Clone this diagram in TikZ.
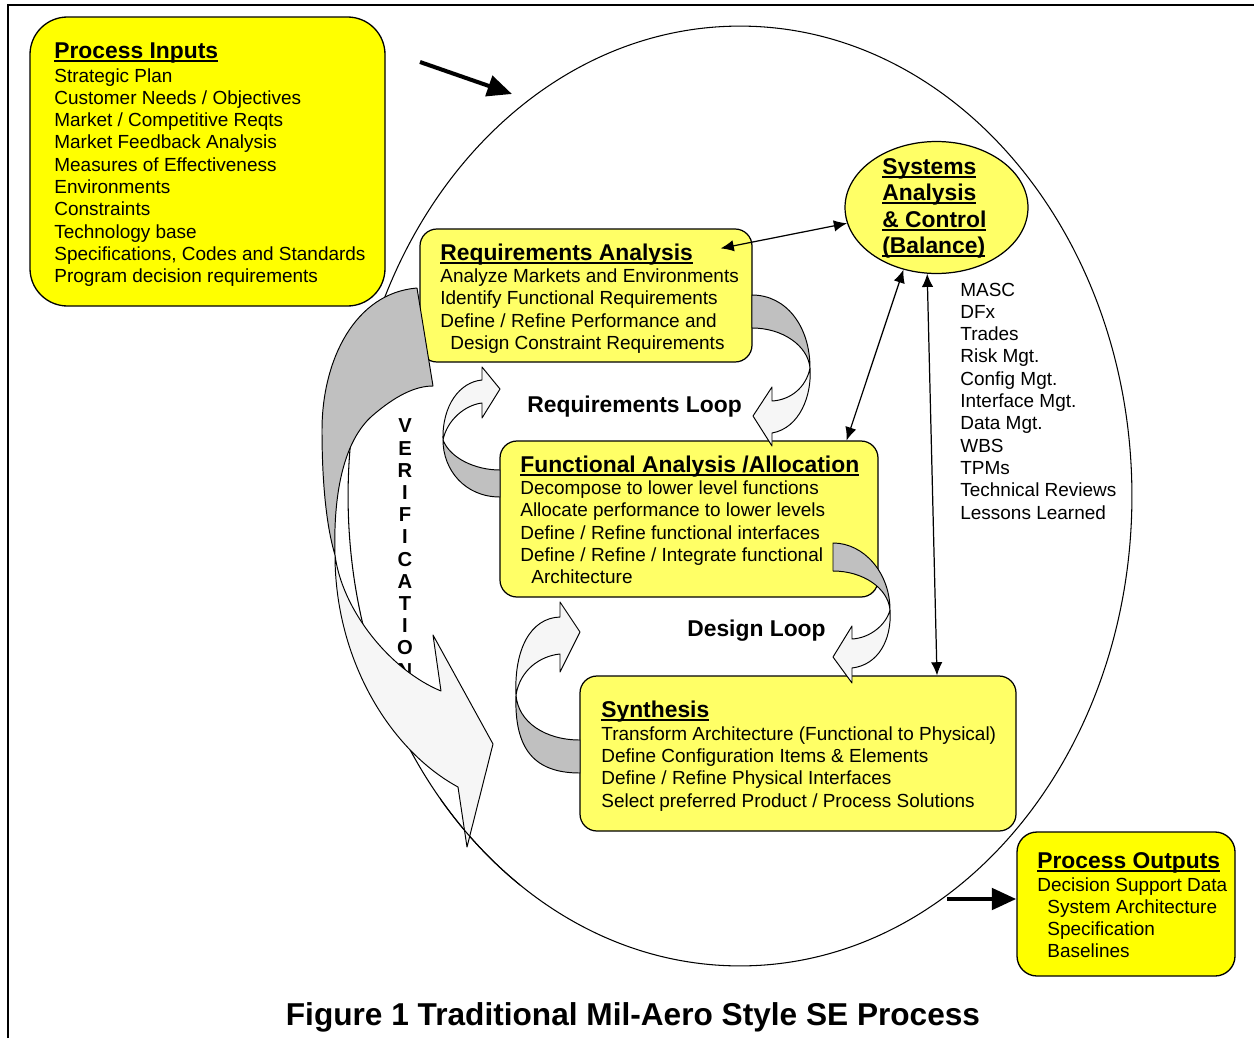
\documentclass[tikz,border=0pt]{standalone}
\usepackage{fontspec}
\setmainfont{Liberation Sans}
\usetikzlibrary{arrows.meta,shapes.geometric,fit,calc}
\definecolor{hiyel}{RGB}{255,255,0}
\definecolor{paleyel}{RGB}{255,255,102}
\definecolor{ribdark}{RGB}{192,192,192}
\definecolor{riblight}{RGB}{246,246,246}
\newlength\ulw
% bold heading with a solid underline
\newcommand\ulbf[1]{\settowidth{\ulw}{#1}\rlap{\rule[-2.4pt]{\ulw}{1.1pt}}#1}

\begin{document}
\begin{tikzpicture}[x=0.02cm,y=-0.02cm,
  body/.style={font=\fontsize{10.8}{13}\selectfont, inner sep=0, anchor=base west},
  ttl/.style={font=\fontsize{13}{15}\selectfont\bfseries, inner sep=0, anchor=base west},
  outerbox/.style={draw, line width=0.75pt, fill=hiyel, inner sep=0},
  stagebox/.style={draw, line width=0.7pt, fill=paleyel, inner sep=0, rounded corners=0.34cm},
  ribbon/.style={draw, line width=0.55pt, line join=round},
  link/.style={line width=0.7pt, {Latex[length=7.5pt,width=6.5pt]}-{Latex[length=7.5pt,width=6.5pt]}},
  bigarrow/.style={-{Triangle[length=14pt,width=12pt]}},
]
\useasboundingbox (0,0) rectangle (1254,1038);

% page frame (top and left rules)
\draw[line width=1.2pt] (8,1038) -- (8,5) -- (1254,5);

% the overall process ring
\node[ellipse, draw, line width=0.6pt, minimum width=15.68cm, minimum height=18.8cm, inner sep=0] (ring) at (740,496) {};

% boxes
\node[outerbox, rounded corners=0.75cm, fit={(30,17) (385,306)}] (inputs) {};
\node[outerbox, rounded corners=0.4cm, fit={(1017,832) (1235,976)}] (outs) {};
\node[stagebox, fit={(420,229) (752,362)}] (req) {};
\node[stagebox, fit={(500,441) (878,597)}] (func) {};
\node[stagebox, fit={(580,676) (1016,831)}] (syn) {};
\node[ellipse, draw, line width=0.7pt, fill=paleyel, minimum width=3.66cm, minimum height=2.64cm, inner sep=0] (sys) at (936.5,207.5) {};

% process inputs
\node[ttl] (inT) at (54,58) {\ulbf{Process Inputs}};
\foreach \s [count=\i] in {Strategic Plan, Customer Needs / Objectives, Market / Competitive Reqts,
    Market Feedback Analysis, Measures of Effectiveness, Environments, Constraints,
    Technology base, {Specifications, Codes and Standards}, Program decision requirements}
  \node[body] (in\i) at (54,{82+22.3*(\i-1)}) {\s};

% requirements analysis
\node[ttl] (reqT) at (440,260) {\ulbf{Requirements Analysis}};
\node[body] (req1) at (440,282) {Analyze Markets and Environments};
\node[body] (req2) at (440,304) {Identify Functional Requirements};
\node[body] (req3) at (440,327) {Define / Refine Performance and};
\node[body] (req4) at (450,349) {Design Constraint Requirements};

% functional analysis
\node[ttl] (funT) at (520,472) {\ulbf{Functional Analysis /Allocation}};
\node[body] (fun1) at (520,494) {Decompose to lower level functions};
\node[body] (fun2) at (520,516) {Allocate performance to lower levels};
\node[body] (fun3) at (520,539) {Define / Refine functional interfaces};
\node[body] (fun4) at (520,561) {Define / Refine / Integrate functional};
\node[body] (fun5) at (531,583) {Architecture};

% synthesis
\node[ttl] (synT) at (601,717) {\ulbf{Synthesis}};
\node[body] (syn1) at (601,740) {Transform Architecture (Functional to Physical)};
\node[body] (syn2) at (601,762) {Define Configuration Items \& Elements};
\node[body] (syn3) at (601,784) {Define / Refine Physical Interfaces};
\node[body] (syn4) at (601,807) {Select preferred Product / Process Solutions};

% systems analysis and control
\node[ttl] (sysA) at (882,174) {\ulbf{Systems}};
\node[ttl] (sysB) at (882,200) {\ulbf{Analysis}};
\node[ttl] (sysC) at (882,227) {\ulbf{\& Control}};
\node[ttl] (sysD) at (882,253) {\ulbf{(Balance)}};
\foreach \s [count=\i] in {MASC, DFx, Trades, Risk Mgt., Config Mgt., Interface Mgt.,
    Data Mgt., WBS, TPMs, Technical Reviews, Lessons Learned}
  \node[body] (tool\i) at (960,{296+22.3*(\i-1)}) {\s};

% process outputs
\node[ttl] (outT) at (1037,868) {\ulbf{Process Outputs}};
\node[body] (out1) at (1037,891) {Decision Support Data};
\node[body] (out2) at (1047,913) {System Architecture};
\node[body] (out3) at (1047,935) {Specification};
\node[body] (out4) at (1047,957) {Baselines};

% loop labels
\node[ttl] (rqloop) at (527,412) {Requirements Loop};
\node[ttl] (dsloop) at (687,636) {Design Loop};

% vertical verification label
\foreach \c [count=\i] in {V,E,R,I,F,I,C,A,T,I,O,N}
  \node[font=\fontsize{11.5}{13}\selectfont\bfseries, inner sep=0] (ver\i) at (405,{426+22.2*(\i-1)}) {\c};

% requirements loop ribbons
\filldraw[ribbon, fill=ribdark] (752,295) .. controls (786,295) and (810,326) .. (810,368)
  .. controls (808,346) and (783,328) .. (752,328) -- cycle;
\filldraw[ribbon, fill=riblight] (810,368) .. controls (812,395) and (800,428) .. (772,433)
  -- (772,446) -- (753,416) -- (772,387) -- (772,401)
  .. controls (790,400) and (806,388) .. (810,368) -- cycle;
\filldraw[ribbon, fill=ribdark] (500,470) .. controls (475,470) and (450,458) .. (443,440)
  .. controls (443,470) and (465,497) .. (500,497) -- cycle;
\filldraw[ribbon, fill=riblight] (443,440) .. controls (442,405) and (460,382) .. (482,380)
  -- (482,367) -- (500,389) -- (482,418) -- (482,403)
  .. controls (465,405) and (447,420) .. (443,440) -- cycle;

% design loop ribbons
\filldraw[ribbon, fill=ribdark] (833,543) .. controls (864,543) and (890,573) .. (890,610)
  .. controls (888,588) and (863,571) .. (833,571) -- cycle;
\filldraw[ribbon, fill=riblight] (890,610) .. controls (892,640) and (878,665) .. (852,668)
  -- (852,683) -- (833,657) -- (852,626) -- (852,639)
  .. controls (870,638) and (886,625) .. (890,610) -- cycle;
\filldraw[ribbon, fill=ribdark] (580,740) .. controls (545,740) and (518,722) .. (516,695)
  .. controls (514,750) and (535,773) .. (580,773) -- cycle;
\filldraw[ribbon, fill=riblight] (516,695) .. controls (514,650) and (530,618) .. (560,617)
  -- (560,602) -- (580,632) -- (560,672) -- (560,654)
  .. controls (540,656) and (520,670) .. (516,695) -- cycle;

% verification ribbon
\filldraw[ribbon, fill=ribdark] (417,288) .. controls (355,293) and (322,360) .. (322,430)
  .. controls (322,480) and (326,525) .. (335,555)
  .. controls (333,490) and (345,440) .. (372,416)
  .. controls (395,396) and (415,386) .. (433,386) -- cycle;
\filldraw[ribbon, fill=riblight] (335,555) .. controls (342,610) and (390,670) .. (441,691)
  -- (433,635) -- (493,744) -- (467,847) -- (458,787)
  .. controls (390,750) and (335,660) .. (335,555) -- cycle;
\begin{scope}
  \clip (440,790) rectangle (520,900);
  \draw[line width=0.6pt] (740,496) ellipse [x radius=7.84cm, y radius=9.4cm];
\end{scope}

% links with systems analysis
\draw[link] ($(req.north east)+(-32,20)$) -- (sys.190);
\draw[link] (sys.242) -- ($(func.north east)+(-32,0)$);
\draw[link] (sys.262) -- ($(syn.north)+(139,0)$);

% flow into and out of the process
\coordinate (inTail) at (420,62);
\coordinate (inHead) at (512,94);
\draw[bigarrow, line width=2.3pt] (inTail) -- (inHead);
\draw[bigarrow, line width=2.8pt] ($(outs.west)+(-69,-5)$) -- ($(outs.west)+(0,-5)$);

% caption
\node[font=\fontsize{18}{21}\selectfont\bfseries, inner sep=0, anchor=base] (caption) at (633,1025)
  {Figure 1 Traditional Mil-Aero Style SE Process};
\end{tikzpicture}
\end{document}
